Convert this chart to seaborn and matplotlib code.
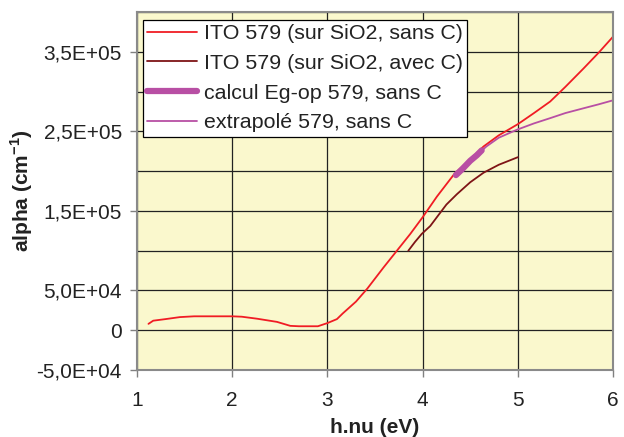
import pandas as pd
import matplotlib
matplotlib.use("Agg")
import matplotlib.pyplot as plt
import seaborn as sns
from matplotlib.ticker import FixedLocator, MultipleLocator

# ITO 579 (sur SiO2, sans C)
x_sans = [1.12, 1.17, 1.3, 1.45, 1.6, 1.8, 2.0, 2.1, 2.26, 2.47, 2.61, 2.7, 2.9, 3.0,
          3.1, 3.16, 3.3, 3.42, 3.59, 3.73, 3.87, 4.0, 4.15, 4.33, 4.5, 4.64, 4.8, 5.0,
          5.17, 5.34, 5.5, 5.69, 5.85, 6.0]
y_sans = [8000, 12000, 14000, 16500, 17500, 17500, 17500, 17000, 14500, 10500, 5500, 5000,
          5000, 9000, 14000, 21000, 36000, 52500, 79000, 100000, 121000, 142000, 168000,
          196000, 215000, 231000, 245000, 259000, 273000, 287500, 306000, 329000, 349000, 369000]

# ITO 579 (sur SiO2, avec C)
x_avec = [3.85, 3.92, 3.99, 4.08, 4.16, 4.25, 4.36, 4.5, 4.64, 4.8, 5.0]
y_avec = [100000, 111000, 121000, 131000, 143750, 158000, 171000, 186000, 198000, 208000, 217500]

# calcul Eg-op 579, sans C
x_calc = [4.35, 4.42, 4.5, 4.57, 4.62]
y_calc = [195000, 203000, 213000, 220000, 226000]

# extrapolé 579, sans C
x_extr = [4.55, 4.67, 4.8, 4.99, 5.17, 5.34, 5.5, 5.69, 5.85, 6.0]
y_extr = [218000, 231000, 242000, 252000, 260000, 266600, 273000, 279000, 284000, 289000]

labels = ["ITO 579 (sur SiO2, sans C)", "ITO 579 (sur SiO2, avec C)",
          "calcul Eg-op 579, sans C", "extrapolé 579, sans C"]
y_ticks = [-50000, 0, 50000, 150000, 250000, 350000]
y_ticklabels = ["-5,0E+04", "0", "5,0E+04", "1,5E+05", "2,5E+05", "3,5E+05"]

sns.set_style("white")
plt.rcParams["font.family"] = ["Liberation Sans", "DejaVu Sans"]
plt.rcParams["mathtext.fontset"] = "custom"
plt.rcParams["mathtext.bf"] = "Liberation Sans:bold"
plt.rcParams["mathtext.rm"] = "Liberation Sans"
plt.rcParams["text.color"] = "#222222"

fig = plt.figure(figsize=(6.24, 4.37), dpi=100)
ax = fig.add_axes([0.2196, 0.1533, 0.7628, 0.8192])
ax.set_facecolor("#FAF8CD")

red = "#F01C24"
dark = "#7E1416"
mag = "#B84FA4"

sns.lineplot(x=x_sans, y=y_sans, ax=ax, color=red, lw=1.3, sort=False, estimator=None, label=labels[0])
sns.lineplot(x=x_avec, y=y_avec, ax=ax, color=dark, lw=1.3, sort=False, estimator=None, label=labels[1])
sns.lineplot(x=x_calc, y=y_calc, ax=ax, color=mag, lw=4.5, sort=False, estimator=None, label=labels[2],
             solid_capstyle="round")
sns.lineplot(x=x_extr, y=y_extr, ax=ax, color=mag, lw=1.3, sort=False, estimator=None, label=labels[3])

ax.set_xlim(1, 6)
ax.set_ylim(-50000, 400000)
ax.xaxis.set_major_locator(MultipleLocator(1))
ax.yaxis.set_major_locator(FixedLocator(y_ticks))
ax.set_yticklabels(y_ticklabels)
ax.yaxis.set_minor_locator(MultipleLocator(50000))
ax.grid(True, which="major", axis="x", color="#222222", lw=0.9)
ax.grid(True, which="both", axis="y", color="#222222", lw=0.9)
ax.set_axisbelow(True)
ax.tick_params(axis="both", which="major", direction="out", length=5, width=1, color="#808080",
               labelsize=15, labelcolor="#222222", bottom=True, left=True)
ax.tick_params(axis="x", which="major", pad=10)
ax.tick_params(axis="y", which="major", pad=6)
ax.tick_params(axis="y", which="minor", length=0, left=False)
for s in ax.spines.values():
    s.set_color("#8a8a8a")
    s.set_linewidth(1.5)

ax.set_xlabel("h.nu (eV)", fontsize=15, fontweight="bold", labelpad=6, color="#222222")
ax.set_ylabel(r"alpha (cm$^{\mathbf{-1}}$)", fontsize=15, fontweight="bold", labelpad=1, color="#222222")

leg = ax.legend(loc="upper left", bbox_to_anchor=(0.012, 0.978), fontsize=15.4, frameon=True,
                fancybox=False, edgecolor="black", framealpha=1, borderpad=0.2,
                labelspacing=0.5, handlelength=2.35, handletextpad=0.3, borderaxespad=0)
leg.get_frame().set_linewidth(0.9)

fig.savefig("out.png", dpi=100)
